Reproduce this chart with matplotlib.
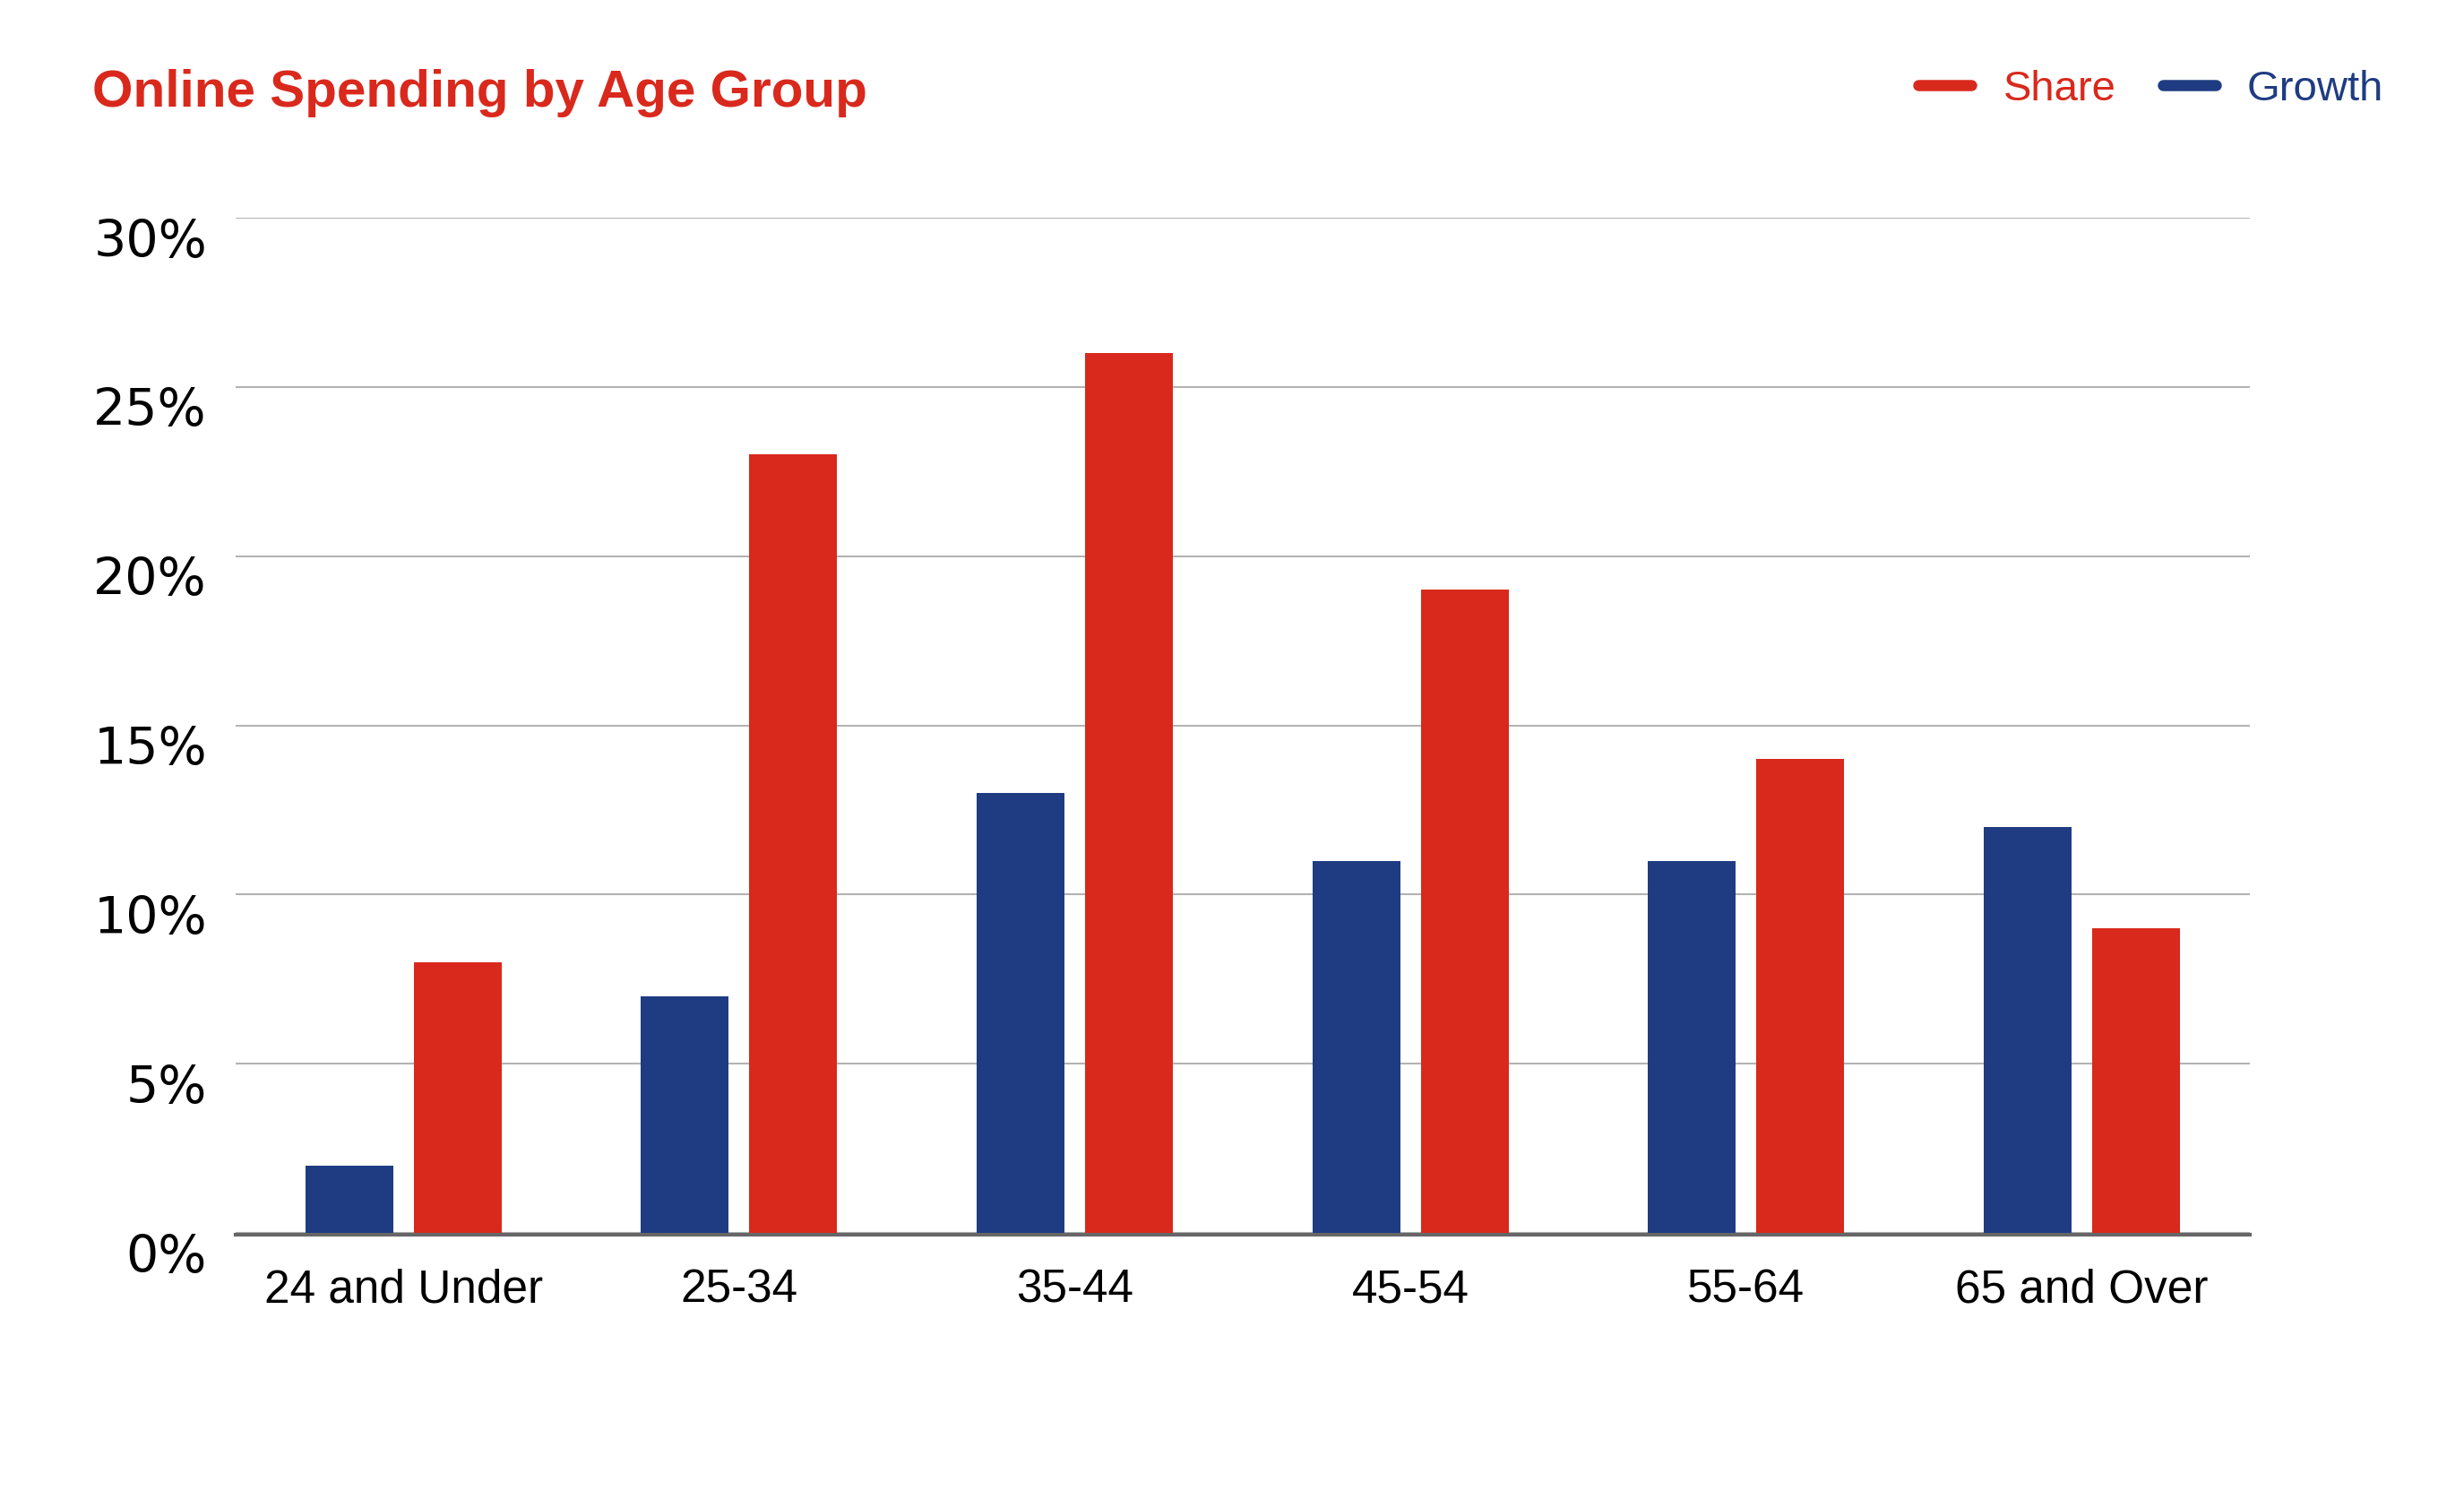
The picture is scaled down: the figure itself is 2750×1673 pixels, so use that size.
import numpy as np
import matplotlib
matplotlib.use("Agg")
import matplotlib.pyplot as plt
import matplotlib.transforms as mtransforms
from matplotlib.lines import Line2D

# data
groups = ["24 and Under", "25-34", "35-44", "45-54", "55-64", "65 and Over"]
growth = [2, 7, 13, 11, 11, 12]
share = [8, 23, 26, 19, 14, 9]
y_ticks = [0, 5, 10, 15, 20, 25, 30]

red = "#D9291C"
blue = "#1F3C82"
narrow = ["Liberation Sans Narrow", "Liberation Sans", "DejaVu Sans"]

fig = plt.figure(figsize=(27.5, 16.74), dpi=100)
ax = fig.add_axes([0.0956, 0.1774, 0.8174, 0.6768])

x = np.arange(len(groups))
w = 0.262
off = 0.1615
ax.bar(x - off, growth, w, color=blue, zorder=2)
ax.bar(x + off, share, w, color=red, zorder=2)

ax.set_xlim(-0.5, len(groups) - 0.5)
ax.set_ylim(0, 30)
ax.set_yticks(y_ticks)
ax.set_yticklabels([f"{t}%" for t in y_ticks], fontsize=41, family="DejaVu Sans")
ax.set_xticks(x)
ax.set_xticklabels(groups, fontsize=37, family=narrow)

ax.tick_params(axis="y", length=0, pad=23)
ax.tick_params(axis="x", length=0, pad=28)

# y labels sit a bit below their gridlines
shift = mtransforms.ScaledTranslation(0, -0.21, fig.dpi_scale_trans)
for lab in ax.get_yticklabels():
    lab.set_transform(lab.get_transform() + shift)

for s in ax.spines.values():
    s.set_visible(False)
ax.yaxis.grid(True, color="#B3B3B3", linewidth=1.5, zorder=0)
ax.set_axisbelow(True)
ax.axhline(-0.05, color="#666666", linewidth=3, zorder=1, clip_on=False)

fig.text(0.0375, 0.9289, "Online Spending by Age Group", fontsize=42,
         fontweight="bold", color=red, family="Liberation Sans", va="baseline")

handles = [Line2D([0], [0], color=red, lw=9, solid_capstyle="round"),
           Line2D([0], [0], color=blue, lw=9, solid_capstyle="round")]
leg = fig.legend(handles, ["Share", "Growth"], loc="center right",
                 bbox_to_anchor=(0.976, 0.940), ncol=2, frameon=False,
                 handlelength=1.25, handletextpad=0.75, columnspacing=1.1,
                 borderpad=0, prop={"family": narrow, "size": 34})
for t, c in zip(leg.get_texts(), [red, blue]):
    t.set_color(c)

fig.savefig("out.png", dpi=100, facecolor="white")
